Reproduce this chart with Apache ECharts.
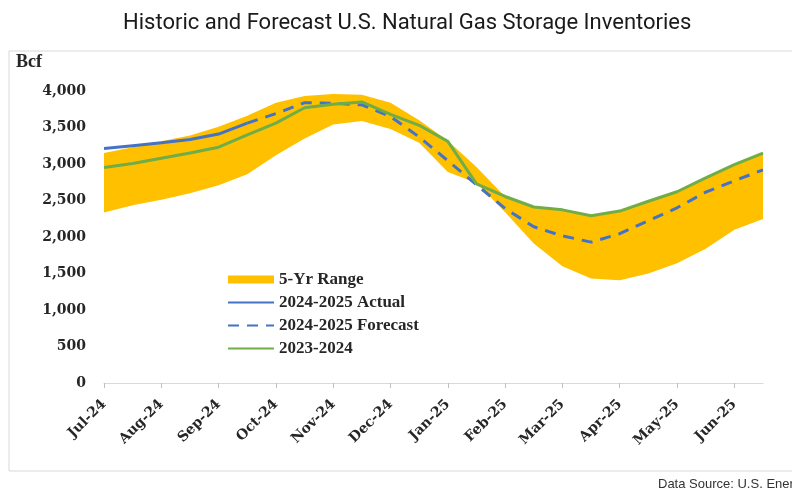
<!DOCTYPE html>
<html>
<head>
<meta charset="utf-8">
<script src="https://cdn.jsdelivr.net/npm/echarts@6/dist/echarts.min.js"></script>
<style>
  html, body { margin: 0; padding: 0; background: #fff; }
  #chart { width: 792px; height: 490px; }
</style>
</head>
<body>
<div id="chart"></div>
<script>
// month labels (ticks); data is sampled twice per month
const months = ["Jul-24", "Aug-24", "Sep-24", "Oct-24", "Nov-24", "Dec-24",
  "Jan-25", "Feb-25", "Mar-25", "Apr-25", "May-25", "Jun-25"];
const periods = months.flatMap((m) => [m, m + " mid"]);

// Bcf
const rangeLow = [2334, 2434, 2510, 2600, 2710, 2860, 3120, 3350, 3540, 3590, 3480, 3290,
  2890, 2740, 2340, 1910, 1600, 1430, 1407, 1500, 1640, 1840, 2100, 2245];
const rangeHigh = [3151, 3230, 3310, 3390, 3510, 3660, 3840, 3930, 3960, 3950, 3840, 3600,
  3320, 2960, 2550, 2400, 2362, 2285, 2345, 2480, 2610, 2800, 2980, 3140];
const actual = [3211, 3250, 3290, 3335, 3410, 3560, null, null, null, null, null, null,
  null, null, null, null, null, null, null, null, null, null, null, null];
const forecast = [null, null, null, null, null, 3560, 3690, 3840, 3832, 3810, 3650, 3370,
  3045, 2716, 2390, 2140, 2015, 1930, 2045, 2225, 2400, 2614, 2770, 2920];
const prior = [2951, 3006, 3080, 3150, 3230, 3400, 3560, 3770, 3820, 3850, 3680, 3530,
  3310, 2727, 2555, 2411, 2372, 2290, 2355, 2490, 2620, 2810, 2990, 3150];

const rangeSpan = rangeHigh.map((v, i) => v - rangeLow[i]);

const serif = "'Liberation Serif', 'DejaVu Serif', serif";
const wideSerif = "'DejaVu Serif', 'Liberation Serif', serif";
const textColor = "#262626";
const noMarker = { opacity: 0 }; // hide the dot ECharts puts on line legend icons

const chart = echarts.init(document.getElementById("chart"));

const option = {
  animation: false,
  title: {
    text: "Historic and Forecast U.S. Natural Gas Storage Inventories",
    left: 118,
    top: 7,
    textStyle: {
      fontFamily: "Roboto, sans-serif",
      fontSize: 22,
      fontWeight: "normal",
      color: "#1a1a1a",
    },
  },
  graphic: [
    {
      type: "rect",
      shape: { x: 9, y: 51, width: 820, height: 420 },
      style: { fill: "none", stroke: "#d9d9d9", lineWidth: 1 },
      silent: true,
    },
    {
      type: "text",
      left: 16,
      top: 53,
      style: { text: "Bcf", font: "bold 18px " + serif, fill: textColor },
    },
    {
      type: "text",
      left: 658,
      top: 478,
      style: {
        text: "Data Source: U.S. Energy Information Administration",
        font: "13px 'Liberation Sans', Arial, sans-serif",
        fill: "#333",
      },
    },
  ],
  legend: {
    orient: "vertical",
    left: 222,
    top: 266,
    itemWidth: 46,
    itemHeight: 8,
    itemGap: 6,
    textStyle: { fontFamily: serif, fontWeight: "bold", fontSize: 17, color: textColor },
    data: [
      { name: "5-Yr Range", icon: "rect" },
      { name: "2024-2025 Actual", itemStyle: noMarker },
      { name: "2024-2025 Forecast", itemStyle: noMarker },
      { name: "2023-2024", itemStyle: noMarker },
    ],
  },
  grid: { left: 104, right: 29, top: 91, bottom: 107 },
  xAxis: {
    type: "category",
    boundaryGap: false,
    data: periods,
    axisLine: { lineStyle: { color: "#d9d9d9", width: 1 } },
    axisTick: { show: true, interval: 1, length: 5, lineStyle: { color: "#bfbfbf" } },
    axisLabel: {
      interval: 1,
      rotate: 45,
      margin: 19,
      fontFamily: wideSerif,
      fontWeight: "bold",
      fontSize: 14,
      color: textColor,
    },
    splitLine: { show: false },
  },
  yAxis: {
    type: "value",
    min: 0,
    max: 4000,
    interval: 500,
    axisLine: { show: false },
    axisTick: { show: false },
    splitLine: { show: false },
    axisLabel: {
      margin: 18,
      fontFamily: wideSerif,
      fontWeight: "bold",
      fontSize: 14,
      color: textColor,
      formatter: (v) => v.toLocaleString("en-US"),
    },
  },
  series: [
    {
      name: "5-Yr Low",
      type: "line",
      stack: "range",
      data: rangeLow,
      symbol: "none",
      lineStyle: { opacity: 0 },
      silent: true,
    },
    {
      name: "5-Yr Range",
      type: "line",
      stack: "range",
      data: rangeSpan,
      symbol: "none",
      itemStyle: { color: "#FFC000" },
      lineStyle: { opacity: 0 },
      areaStyle: { color: "#FFC000", opacity: 1 },
    },
    {
      name: "2024-2025 Actual",
      type: "line",
      data: actual,
      symbol: "none",
      itemStyle: { color: "#4472C4" },
      lineStyle: { color: "#4472C4", width: 3 },
    },
    {
      name: "2024-2025 Forecast",
      type: "line",
      data: forecast,
      symbol: "none",
      itemStyle: { color: "#4472C4" },
      lineStyle: { color: "#4472C4", width: 3, type: [11, 8] },
    },
    {
      name: "2023-2024",
      type: "line",
      data: prior,
      symbol: "none",
      itemStyle: { color: "#70AD47" },
      lineStyle: { color: "#70AD47", width: 3 },
    },
  ],
};

chart.setOption(option);
</script>
</body>
</html>
